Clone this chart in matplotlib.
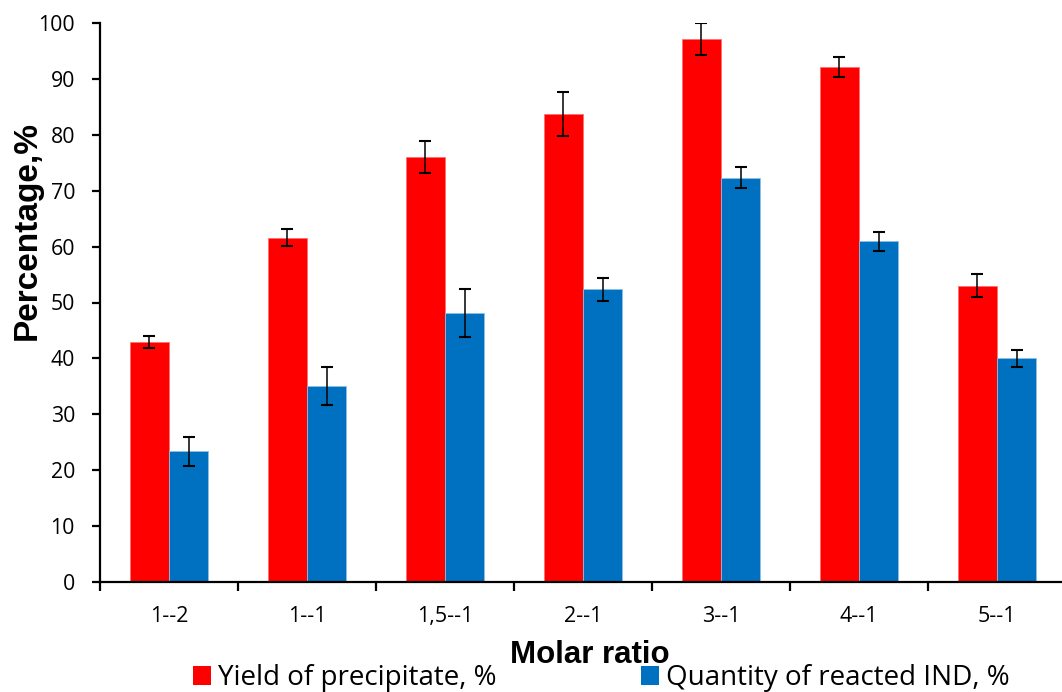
import numpy as np
import matplotlib
matplotlib.use('Agg')
import matplotlib.pyplot as plt
from matplotlib.patches import Patch

# data
ratios = ['1--2', '1--1', '1,5--1', '2--1', '3--1', '4--1', '5--1']
yield_pct = [42.9, 61.6, 76.0, 83.7, 97.1, 92.1, 53.0]
yield_err = [1.1, 1.55, 2.9, 4.0, 2.9, 1.75, 2.1]
reacted_pct = [23.4, 35.0, 48.2, 52.4, 72.3, 61.0, 40.0]
reacted_err = [2.6, 3.4, 4.3, 2.05, 1.9, 1.7, 1.5]

RED = '#FF0000'
BLUE = '#0070C0'
BODY = 'Open Sans'

fig = plt.figure(figsize=(10.62, 6.92), dpi=100)
ax = fig.add_axes([100/1062, 1-582/692, 966/1062, (582-23)/692])

x = np.arange(len(ratios))
w = 0.285
ax.bar(x - w/2, yield_pct, w, color=RED, edgecolor='#ff7070', linewidth=0.6, zorder=2)
ax.bar(x + w/2, reacted_pct, w, color=BLUE, edgecolor='#8fc0e6', linewidth=0.6, zorder=2)
ax.errorbar(x - w/2, yield_pct, yerr=yield_err, fmt='none', ecolor='black',
            elinewidth=1.1, capsize=4.4, capthick=1.5, zorder=3)
ax.errorbar(x + w/2, reacted_pct, yerr=reacted_err, fmt='none', ecolor='black',
            elinewidth=1.1, capsize=4.4, capthick=1.5, zorder=3)

ax.set_xlim(-0.5, len(ratios) - 0.5)
ax.set_ylim(0, 100)
ax.set_yticks(np.arange(0, 101, 10))

# excel style: tick marks between categories, labels centred
ax.set_xticks(np.arange(-0.5, len(ratios), 1))
ax.set_xticklabels([])
ax.set_xticks(x, minor=True)
ax.set_xticklabels(ratios, minor=True, fontfamily=BODY, fontsize=15.5)
ax.tick_params(axis='x', which='minor', length=0, pad=17)
ax.tick_params(axis='x', which='major', length=6.5, width=1.6, direction='out')
ax.tick_params(axis='y', length=6, width=1.6, direction='out', pad=12)
for lab in ax.get_yticklabels():
    lab.set_fontfamily(BODY)
    lab.set_fontsize(15.3)

for s in ['top', 'right']:
    ax.spines[s].set_visible(False)
for s in ['left', 'bottom']:
    ax.spines[s].set_linewidth(1.6)
    ax.spines[s].set_zorder(4)

fig.text(27/1062, 1-231/692, 'Percentage,%', rotation=90, ha='center', va='center',
         fontfamily='Liberation Sans', fontweight='bold', fontsize=24)
fig.text(590/1062, 1-655/692, 'Molar ratio', ha='center', va='center',
         fontfamily='Liberation Sans', fontweight='bold', fontsize=22.5)

handles = [Patch(facecolor=RED), Patch(facecolor=BLUE)]
fig.legend(handles, ['Yield of precipitate, %', 'Quantity of reacted IND, %'],
           loc='center left', bbox_to_anchor=(193/1062, 1-678/692), ncol=2,
           frameon=False, borderpad=0, borderaxespad=0,
           handlelength=0.65, handleheight=0.65, handletextpad=0.25,
           columnspacing=5.2, prop={'family': BODY, 'size': 20})

fig.savefig('out.png', dpi=100)
